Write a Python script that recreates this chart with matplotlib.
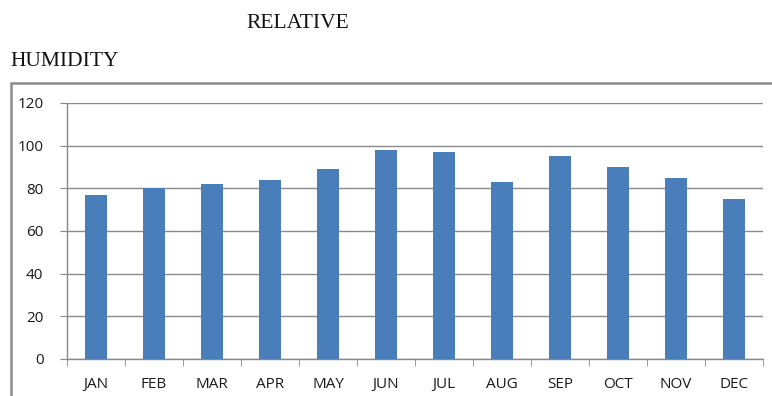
import matplotlib
matplotlib.use("Agg")
import matplotlib.pyplot as plt
from matplotlib.patches import Rectangle
import numpy as np

months = ["JAN", "FEB", "MAR", "APR", "MAY", "JUN", "JUL", "AUG", "SEP", "OCT", "NOV", "DEC"]
humidity = [77, 80, 82, 84, 89, 98, 97, 83, 95, 90, 85, 75]
yticks = [0, 20, 40, 60, 80, 100, 120]

W, H = 772, 396
fig = plt.figure(figsize=(W / 100, H / 100), dpi=100)
fig.patch.set_facecolor("white")

# outer chart border (cut off at right/bottom)
top = 1 - 83 / H
fig.patches.append(Rectangle((11 / W, -0.2), 1.2, top + 0.2, transform=fig.transFigure,
                             fill=False, edgecolor="#8c8c8c", linewidth=1.8, zorder=0))

ax = fig.add_axes([67 / W, 1 - 359 / H, (763 - 67) / W, (359 - 103) / H])
x = np.arange(len(months))
ax.bar(x, humidity, width=0.38, color="#4a7ebb", zorder=3)
ax.set_xlim(-0.5, len(months) - 0.5)
ax.set_ylim(0, 120)
ax.set_yticks(yticks)
ax.set_yticklabels([str(v) for v in yticks], fontsize=11, family="Open Sans", color="#1a1a1a")
ax.set_xticks(x)
ax.set_xticklabels(months, fontsize=11, family="Open Sans", color="#1a1a1a")
ax.tick_params(axis="x", length=0, pad=13)
ax.set_xticks(np.arange(-0.5, len(months)), minor=True)
ax.tick_params(axis="x", which="minor", length=5, color="#888888", direction="out")
ax.tick_params(axis="y", length=5, color="#888888", direction="out", pad=12)
ax.grid(axis="y", color="#8a8a8a", linewidth=1.0, zorder=0)
for s in ["top", "right"]:
    ax.spines[s].set_visible(False)
for s in ["left", "bottom"]:
    ax.spines[s].set_color("#888888")
    ax.spines[s].set_linewidth(1.0)

fig.text(298 / W, 1 - 24 / H, "RELATIVE", ha="center", va="center", fontsize=15.5,
         family="Liberation Serif", color="#111111")
fig.text(10 / W, 1 - 62 / H, "HUMIDITY", ha="left", va="center", fontsize=15.5,
         family="Liberation Serif", color="#111111")

fig.savefig("out.png", dpi=100, facecolor="white")
